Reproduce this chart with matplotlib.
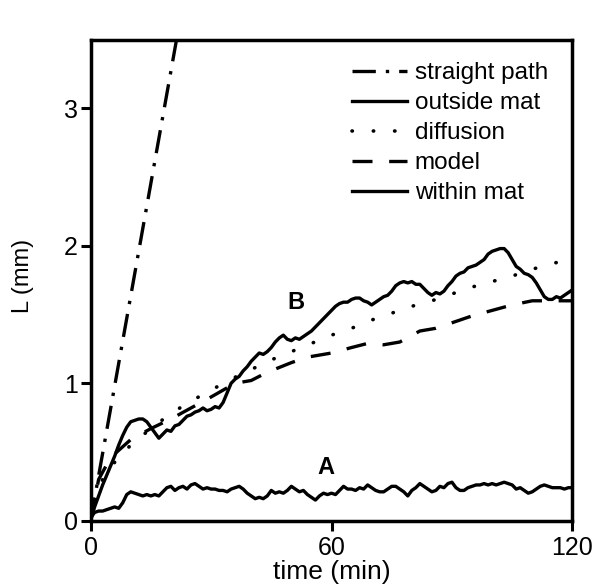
import matplotlib
matplotlib.use("Agg")
import matplotlib.pyplot as plt

plt.rcParams['font.family'] = ['Liberation Sans', 'DejaVu Sans']

# ---- data ----
straight_t = [0, 21.4]
straight_L = [0, 3.5]

diff_t = [0, 1, 2, 3, 5, 7, 10, 15, 20, 25, 30, 35, 40, 45, 50, 55, 60, 65, 70, 75, 80, 85, 90, 95, 100, 105, 110, 115, 120]
diff_L = [0, 0.17, 0.25, 0.30, 0.39, 0.46, 0.55, 0.67, 0.78, 0.87, 0.95, 1.03, 1.10, 1.17, 1.23, 1.29, 1.35, 1.40, 1.46, 1.51, 1.56, 1.60, 1.65, 1.70, 1.74, 1.78, 1.83, 1.87, 1.91]

model_t = [0, 2, 5, 10, 15, 20, 25, 30, 36, 40, 44, 50, 54, 60, 65, 69, 73, 77, 82, 86, 90, 95, 100, 105, 110, 116, 120]
model_L = [0, 0.30, 0.46, 0.59, 0.67, 0.74, 0.82, 0.90, 1.00, 1.02, 1.08, 1.15, 1.19, 1.22, 1.26, 1.29, 1.28, 1.30, 1.38, 1.40, 1.44, 1.49, 1.53, 1.57, 1.60, 1.60, 1.60]

outside_t = [0, 1, 2, 3, 4, 5, 6, 7, 8, 9, 10, 11, 12, 13, 14, 15, 16, 17, 18, 19, 20, 21, 22, 23, 24, 25, 26, 27, 28, 29, 30, 31, 32, 33, 34, 35, 36, 37, 38, 39, 40, 41, 42, 43, 44, 45, 46, 47, 48, 49, 50, 51, 52, 53, 54, 55, 56, 57, 58, 59, 60, 61, 62, 63, 64, 65, 66, 67, 68, 69, 70, 71, 72, 73, 74, 75, 76, 77, 78, 79, 80, 81, 82, 83, 84, 85, 86, 87, 88, 89, 90, 91, 92, 93, 94, 95, 96, 97, 98, 99, 100, 101, 102, 103, 104, 105, 106, 107, 108, 109, 110, 111, 112, 113, 114, 115, 116, 117, 118, 119, 120]
outside_L = [0, 0.10, 0.18, 0.26, 0.33, 0.40, 0.47, 0.55, 0.62, 0.68, 0.72, 0.73, 0.74, 0.74, 0.72, 0.68, 0.64, 0.60, 0.63, 0.66, 0.65, 0.69, 0.70, 0.73, 0.76, 0.77, 0.79, 0.80, 0.82, 0.80, 0.81, 0.83, 0.82, 0.86, 0.93, 1.00, 1.03, 1.05, 1.09, 1.12, 1.16, 1.19, 1.22, 1.21, 1.23, 1.26, 1.30, 1.33, 1.35, 1.32, 1.31, 1.33, 1.32, 1.34, 1.36, 1.38, 1.41, 1.44, 1.47, 1.50, 1.53, 1.56, 1.58, 1.59, 1.59, 1.61, 1.62, 1.62, 1.60, 1.59, 1.57, 1.59, 1.61, 1.63, 1.64, 1.67, 1.71, 1.73, 1.74, 1.73, 1.74, 1.72, 1.72, 1.69, 1.66, 1.64, 1.66, 1.65, 1.67, 1.71, 1.74, 1.78, 1.80, 1.81, 1.84, 1.85, 1.86, 1.88, 1.90, 1.94, 1.96, 1.97, 1.98, 1.98, 1.95, 1.90, 1.85, 1.83, 1.80, 1.79, 1.77, 1.73, 1.68, 1.63, 1.61, 1.61, 1.63, 1.62, 1.64, 1.66, 1.68]

within_t = [0, 1, 2, 3, 4, 5, 6, 7, 8, 9, 10, 11, 12, 13, 14, 15, 16, 17, 18, 19, 20, 21, 22, 23, 24, 25, 26, 27, 28, 29, 30, 31, 32, 33, 34, 35, 36, 37, 38, 39, 40, 41, 42, 43, 44, 45, 46, 47, 48, 49, 50, 51, 52, 53, 54, 55, 56, 57, 58, 59, 60, 61, 62, 63, 64, 65, 66, 67, 68, 69, 70, 71, 72, 73, 74, 75, 76, 77, 78, 79, 80, 81, 82, 83, 84, 85, 86, 87, 88, 89, 90, 91, 92, 93, 94, 95, 96, 97, 98, 99, 100, 101, 102, 103, 104, 105, 106, 107, 108, 109, 110, 111, 112, 113, 114, 115, 116, 117, 118, 119, 120]
within_L = [0.02, 0.06, 0.07, 0.07, 0.08, 0.09, 0.10, 0.09, 0.13, 0.19, 0.21, 0.20, 0.19, 0.18, 0.19, 0.18, 0.19, 0.18, 0.21, 0.24, 0.25, 0.22, 0.24, 0.25, 0.23, 0.26, 0.27, 0.25, 0.23, 0.24, 0.23, 0.23, 0.22, 0.22, 0.21, 0.23, 0.24, 0.25, 0.23, 0.20, 0.18, 0.16, 0.17, 0.16, 0.18, 0.22, 0.20, 0.21, 0.20, 0.22, 0.25, 0.23, 0.21, 0.22, 0.19, 0.17, 0.15, 0.18, 0.20, 0.19, 0.20, 0.19, 0.22, 0.25, 0.23, 0.23, 0.22, 0.24, 0.23, 0.26, 0.24, 0.22, 0.21, 0.21, 0.23, 0.25, 0.25, 0.23, 0.21, 0.18, 0.22, 0.24, 0.27, 0.25, 0.23, 0.21, 0.22, 0.25, 0.24, 0.27, 0.28, 0.24, 0.22, 0.22, 0.24, 0.25, 0.26, 0.26, 0.27, 0.26, 0.27, 0.26, 0.27, 0.28, 0.27, 0.26, 0.23, 0.24, 0.22, 0.20, 0.21, 0.23, 0.25, 0.26, 0.25, 0.24, 0.24, 0.24, 0.23, 0.24, 0.24]

xticks = [0, 60, 120]
yticks = [0, 1, 2, 3]

# ---- figure ----
fig = plt.figure(figsize=(6.0, 5.88), dpi=100)
ax = fig.add_axes([0.151, 0.1145, 0.803, 0.818])

lw = 2.4
ax.plot(straight_t, straight_L, color='black', lw=lw, linestyle=(0, (7, 3, 1, 3)), label='straight path')
ax.plot(outside_t, outside_L, color='black', lw=lw, label='outside mat')
ax.plot(diff_t, diff_L, color='black', lw=2.6, linestyle=(0, (0.1, 5.8)), dash_capstyle='round', label='diffusion')
ax.plot(model_t, model_L, color='black', lw=lw, linestyle=(0, (6, 5)), label='model')
ax.plot(within_t, within_L, color='black', lw=lw, label='within mat')

ax.set_xlim(0, 120)
ax.set_ylim(0, 3.5)
ax.set_xticks(xticks)
ax.set_yticks(yticks)
ax.tick_params(axis='both', direction='out', length=7, width=2.2, labelsize=18,
               top=False, right=False)
ax.tick_params(axis='x', pad=4)
ax.tick_params(axis='y', pad=2)
for s in ax.spines.values():
    s.set_linewidth(2.5)

ax.set_xlabel('time (min)', fontsize=19)
ax.xaxis.label.set_va('center')
ax.xaxis.set_label_coords(0.5, -0.1066)
ax.set_ylabel('L (mm)', fontsize=17)
ax.yaxis.label.set_va('center')
ax.yaxis.set_label_coords(-0.1405, 0.508)

ax.text(51.2, 1.59, 'B', fontsize=17, fontweight='bold', ha='center', va='center')
ax.text(58.5, 0.39, 'A', fontsize=17, fontweight='bold', ha='center', va='center')

leg = ax.legend(loc='upper left', frameon=False, fontsize=17.5, handlelength=2.29,
                handletextpad=0.3, labelspacing=0.33, borderpad=0, borderaxespad=0,
                bbox_to_anchor=(0.542, 0.953))

fig.savefig('out.png', dpi=100)
